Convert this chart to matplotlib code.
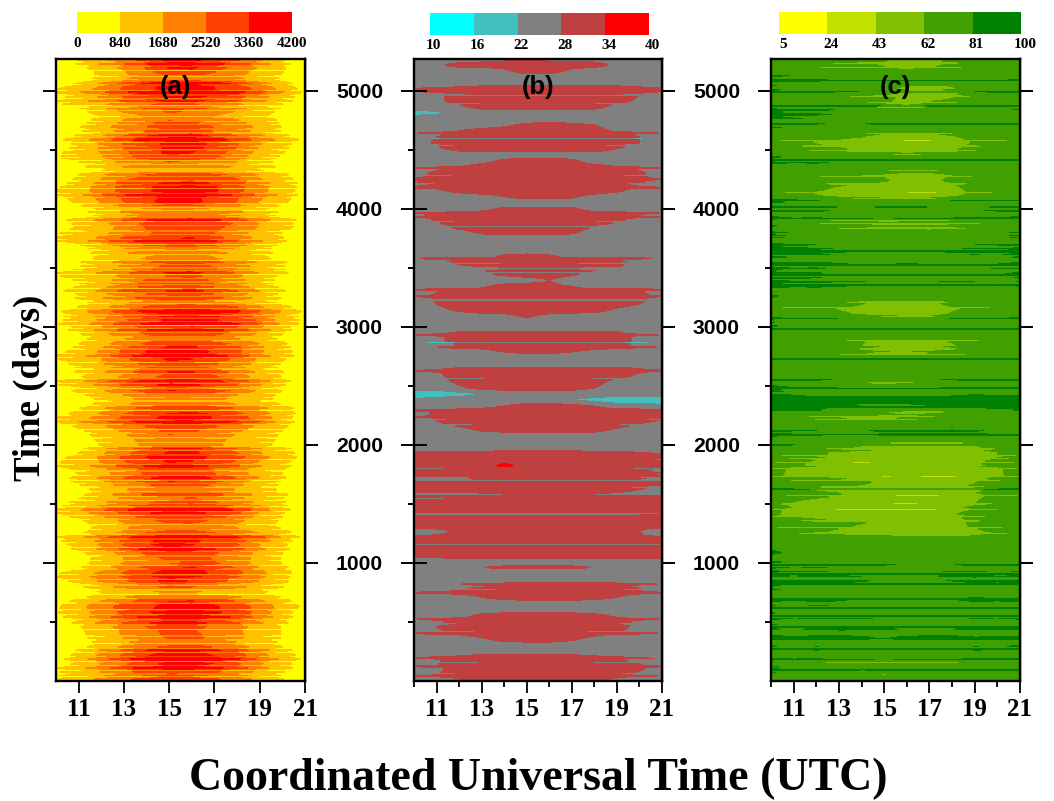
import numpy as np
import matplotlib
matplotlib.use("Agg")
import matplotlib.pyplot as plt

FIG_W, FIG_H = 1054, 801

hours = [10, 11, 12, 13, 14, 15, 16, 17, 18, 19, 20, 21]

# panel (a): flux in hundreds, rows run from the top of the panel to the bottom
flux_rows = [
    [3,9,15,22,28,35,36,30,26,18,9,1],
    [2,7,14,20,27,37,38,29,25,17,10,2],
    [1,5,10,16,24,30,31,26,20,14,9,1],
    [1,4,10,15,19,22,23,20,17,13,7,0],
    [4,8,15,24,30,36,37,33,27,18,11,3],
    [9,14,20,27,31,38,37,34,30,24,15,6],
    [6,11,18,26,30,35,36,33,29,20,13,5],
    [9,12,16,20,24,27,26,22,18,13,9,2],
    [3,8,15,22,26,30,28,24,19,14,8,1],
    [1,4,9,13,18,22,20,17,13,10,5,0],
    [1,6,11,18,24,26,25,22,18,14,7,1],
    [2,8,14,21,25,31,30,25,21,15,8,1],
    [1,7,12,19,26,29,30,24,19,14,8,2],
    [5,11,17,25,31,37,38,31,25,18,12,5],
    [4,10,18,26,30,35,37,32,26,17,11,4],
    [7,12,17,24,29,36,34,28,22,14,9,2],
    [8,11,16,23,28,32,30,26,20,12,7,1],
    [2,6,11,15,18,20,19,17,14,10,6,0],
    [1,4,8,12,14,15,15,13,11,9,5,0],
    [3,9,16,22,26,29,30,28,24,16,11,4],
    [5,12,19,28,32,35,36,33,28,20,13,6],
    [9,13,21,28,33,37,38,35,28,19,13,5],
    [7,12,20,27,31,34,35,31,26,19,12,4],
    [4,10,17,25,32,37,36,31,25,16,10,3],
    [1,6,10,14,17,18,18,16,13,10,6,1],
    [1,4,9,15,22,20,19,20,16,11,6,0],
    [4,11,16,22,28,32,33,30,25,17,11,5],
    [5,9,13,19,26,27,30,27,23,16,12,5],
    [8,11,15,20,24,28,27,25,19,14,8,2],
    [9,12,19,28,31,34,36,29,21,15,9,1],
    [3,8,14,20,26,29,29,26,20,13,7,1],
    [1,4,9,13,16,18,19,15,12,9,5,0],
    [1,5,10,14,17,20,23,17,14,10,6,1],
    [2,7,12,17,21,26,27,24,20,14,9,2],
    [6,10,15,20,25,30,31,26,21,14,9,3],
    [8,11,14,18,23,25,27,22,18,12,7,1],
    [2,8,14,21,28,29,30,25,20,12,6,0],
    [6,10,15,23,26,28,31,25,21,14,8,1],
    [3,9,15,21,25,27,28,25,20,12,7,1],
    [1,6,11,15,19,22,22,18,15,11,6,0],
    [4,9,15,22,27,33,35,31,27,19,12,5],
    [6,13,19,26,31,37,38,35,30,22,14,6],
    [7,11,18,24,30,35,37,34,31,24,13,7],
    [6,10,17,23,28,31,34,31,26,18,12,3],
    [3,8,15,22,27,31,32,28,24,16,9,1],
    [1,6,12,16,21,24,24,21,17,12,7,0],
    [3,9,15,22,28,33,34,29,26,18,11,3],
    [6,11,18,27,34,37,36,33,27,18,11,5],
    [9,12,17,24,31,36,35,30,24,16,10,3],
    [5,11,16,22,27,31,30,26,21,14,8,1],
    [3,8,13,19,24,28,27,23,18,12,7,1],
    [2,7,12,17,22,27,30,26,20,13,8,1],
    [9,13,20,27,31,36,35,30,25,18,10,2],
    [6,11,17,25,31,37,36,31,26,16,9,1],
    [2,7,12,17,21,24,24,21,17,12,7,0],
    [1,4,9,14,18,20,19,17,14,11,6,0],
    [1,6,12,17,22,25,26,23,19,15,10,3],
    [5,11,18,25,30,34,35,33,27,20,13,5],
    [10,15,20,27,32,37,38,33,29,23,11,3],
    [4,10,16,21,26,30,31,26,22,15,10,4],
    [2,6,12,17,21,27,25,22,17,12,8,1],
    [1,5,10,15,19,23,22,19,15,12,7,0],
    [0,3,9,14,18,21,20,18,14,11,6,0],
    [2,7,14,21,27,33,35,28,24,16,11,5],
    [6,11,18,27,34,37,37,32,28,20,13,6],
    [8,12,17,24,29,33,32,28,23,15,10,3],
    [5,10,15,21,27,30,28,24,19,13,9,2],
    [3,8,14,20,26,29,31,26,20,14,8,1],
    [6,10,16,22,28,34,33,28,21,13,8,1],
    [2,6,11,16,20,24,23,20,16,11,7,1],
    [1,5,11,16,22,23,25,23,17,12,8,3],
    [5,10,14,19,22,25,26,24,19,14,9,3],
    [8,12,19,26,31,35,36,31,26,18,10,2],
    [9,14,20,27,33,37,36,32,27,16,9,1],
    [3,8,13,19,25,29,29,25,20,13,8,1],
    [1,5,10,15,19,22,23,20,15,11,6,0],
    [1,6,12,17,24,26,26,24,20,15,11,4],
    [8,13,19,27,32,36,35,33,29,24,13,5],
    [6,11,18,26,33,36,34,30,26,17,10,3],
    [2,8,14,21,29,33,32,27,22,15,9,2],
    [1,5,11,17,23,28,29,24,21,14,8,1],
    [1,6,11,17,22,23,27,26,20,14,8,2],
    [2,8,14,22,29,34,37,30,26,17,11,3],
    [10,15,21,28,34,38,37,33,28,20,11,5],
    [3,9,14,19,24,29,26,22,18,13,9,1],
    [1,5,11,15,18,21,20,18,15,11,7,1],
    [0,3,8,12,15,16,16,14,12,9,5,0],
    [4,10,16,21,28,33,33,28,24,17,11,3],
    [7,14,22,28,32,36,38,35,28,23,13,7],
    [8,13,20,27,33,37,38,35,31,22,12,4],
    [4,9,17,23,28,33,34,29,24,16,10,2],
    [3,8,15,20,26,31,29,24,20,14,8,1],
    [2,7,12,18,23,27,26,22,18,13,8,1],
    [2,6,12,17,23,26,28,23,18,14,8,1],
    [1,5,10,15,19,21,23,21,16,11,7,1],
    [2,7,14,21,27,33,34,28,24,16,10,2],
    [5,11,19,27,34,38,38,34,30,20,13,6],
    [4,10,17,24,31,36,37,34,27,18,12,4],
    [7,12,18,25,31,36,35,29,24,16,10,3],
    [8,12,16,21,26,28,27,24,19,14,8,2],
    [9,14,19,24,29,33,32,27,22,14,9,1],
]

# cloudy days that cut thin pale stripes through panel (a)
flux_deep_days = [
    5170, 5120, 4925, 4870, 4830, 4780, 4640, 4560, 4495, 4405, 4380, 4235, 4170,
    4040, 3985, 3890, 3810, 3700, 3650, 3560, 3500, 3440, 3380, 3320, 3190, 3100,
    3010, 2950, 2810, 2700, 2640, 2520, 2470, 2370, 2290, 2210, 2130, 2060, 1950,
    1870, 1780, 1700, 1640, 1530, 1470, 1400, 1320, 1240, 1130, 1060, 980, 900,
    810, 730, 660, 600, 430, 380, 310, 240, 160, 90, 30,
]
flux_mild_days = [
    5240, 5205, 5090, 5045, 5000, 4960, 4895, 4855, 4740, 4710, 4675, 4605, 4530,
    4460, 4430, 4340, 4310, 4270, 4200, 4130, 4095, 4010, 3950, 3925, 3860, 3775,
    3740, 3675, 3610, 3530, 3470, 3410, 3350, 3290, 3255, 3220, 3150, 3070, 3040,
    2985, 2910, 2880, 2840, 2770, 2735, 2665, 2600, 2560, 2490, 2430, 2400, 2330,
    2250, 2170, 2095, 2020, 1985, 1910, 1835, 1740, 1670, 1600, 1560, 1500, 1430,
    1365, 1280, 1200, 1165, 1095, 1020, 945, 860, 770, 695, 560, 520, 470, 345,
    275, 200, 125, 60,
]
# clear days whose flux reaches further towards both panel edges
flux_clear_days = [
    5225, 5060, 4985, 4910, 4620, 4585, 4350, 4290, 4115, 3965, 3905, 3725, 3625,
    3545, 3460, 3305, 3240, 3125, 3025, 2965, 2755, 2620, 2540, 2310, 2190, 1960,
    1815, 1720, 1580, 1450, 1220, 1115, 840, 790, 535, 490, 255, 185, 105,
]

# panel (b): temperature, top to bottom
temp_rows = [
    [25,25,25,26,27,27,27,26,26,25,25,25],
    [25,27,30,30,30,30,30,30,30,27,25,25],
    [25,25,25,25,27,30,30,27,25,25,25,25],
    [25,25,25,25,25,26,26,25,25,25,25,25],
    [22,25,25,25,25,25,25,25,25,25,25,25],
    [25,27,30,31,31,31,31,31,31,31,30,25],
    [25,27,30,31,31,31,31,31,31,31,28,25],
    [25,27,30,31,31,31,31,31,31,30,27,25],
    [25,25,27,30,31,31,31,31,30,26,25,25],
    [20,21,24,25,25,25,25,25,25,25,25,24],
    [25,25,25,25,25,25,25,25,25,25,25,25],
    [25,25,25,25,27,29,30,29,28,25,25,25],
    [25,25,28,30,30,30,31,30,30,27,25,25],
    [25,28,30,31,31,31,31,31,31,31,28,25],
    [25,29,31,31,31,31,31,31,31,30,28,25],
    [25,27,30,31,31,31,31,31,31,28,26,25],
    [23,24,25,25,25,25,25,25,25,25,25,25],
    [25,25,25,26,29,30,30,29,25,25,25,25],
    [25,26,28,30,31,31,31,31,30,28,26,25],
    [26,29,31,31,31,31,31,31,31,31,29,25],
    [27,30,31,31,31,31,31,31,31,31,30,25],
    [28,30,31,31,31,31,31,31,31,31,28,25],
    [25,27,30,31,31,31,31,31,31,29,26,25],
    [25,25,25,26,28,30,30,29,26,25,25,25],
    [25,25,25,25,25,25,25,25,25,25,25,25],
    [25,25,25,26,29,29,29,29,25,25,25,25],
    [25,28,30,31,31,31,31,31,31,30,27,25],
    [25,29,31,31,31,31,31,31,31,29,26,25],
    [25,26,30,30,30,31,31,30,28,26,25,25],
    [25,25,26,29,30,30,30,29,26,25,25,25],
    [25,25,25,25,25,25,25,25,25,25,25,25],
    [25,25,25,25,25,25,25,25,25,25,25,25],
    [23,25,25,25,25,25,25,25,25,25,24,23],
    [25,25,25,26,29,30,29,26,25,25,25,25],
    [25,27,30,30,30,30,30,30,30,30,26,25],
    [25,25,25,28,30,30,30,30,29,28,25,25],
    [25,25,25,27,29,30,30,29,26,25,25,25],
    [23,23,25,25,25,26,28,25,25,25,25,25],
    [25,25,25,27,30,30,29,28,25,25,25,25],
    [25,28,30,31,31,31,31,31,31,31,29,25],
    [25,29,31,31,31,31,31,31,31,31,30,25],
    [25,28,31,31,31,31,31,31,31,30,28,25],
    [25,26,29,31,31,31,31,31,30,27,25,25],
    [25,25,25,25,26,29,26,25,25,25,25,24],
    [22,24,25,25,25,25,25,25,25,25,25,25],
    [25,25,25,25,25,25,25,25,25,25,25,25],
    [25,27,30,30,31,31,31,31,31,30,26,25],
    [25,27,30,31,31,31,31,31,31,30,27,25],
    [25,25,28,30,31,31,31,31,31,30,26,25],
    [25,25,25,26,28,29,29,28,26,25,25,25],
    [25,25,25,25,25,25,25,25,25,25,25,24],
    [25,25,25,25,25,25,25,25,25,25,25,25],
    [25,28,30,31,31,31,31,31,31,31,29,26],
    [25,27,30,31,31,31,31,31,31,30,27,25],
    [25,26,29,30,31,31,31,31,30,26,25,25],
    [25,25,27,30,30,30,30,30,28,25,25,25],
    [18,18,20,22,25,25,25,25,25,25,25,25],
    [23,25,25,25,25,25,25,22,20,18,17,17],
    [25,25,25,26,28,30,30,30,28,25,25,24],
    [26,29,31,31,31,31,31,31,31,31,31,28],
    [25,29,31,31,31,31,31,31,31,31,31,29],
    [25,27,30,31,31,31,31,31,31,31,28,26],
    [25,25,26,29,30,31,31,31,30,27,25,25],
    [25,25,25,25,25,25,25,25,25,25,25,25],
    [25,25,25,25,25,25,27,25,25,25,25,25],
    [25,25,25,25,25,25,25,25,25,25,25,25],
    [30,30,30,30,31,31,31,31,30,30,29,28],
    [31,31,31,31,31,31,31,31,31,31,31,31],
    [30,30,30,30,36,31,31,31,31,31,31,31],
    [29,29,30,31,31,31,31,31,31,30,28,25],
    [25,25,26,29,30,30,31,31,30,30,28,25],
    [31,31,31,31,31,31,31,31,31,31,31,31],
    [30,30,30,31,31,31,31,31,31,30,28,25],
    [25,25,25,26,27,29,29,29,27,26,25,25],
    [30,30,31,31,31,31,31,31,31,31,31,31],
    [31,31,31,31,31,31,31,31,31,31,31,32],
    [31,31,31,31,31,31,31,31,31,31,31,32],
    [31,31,31,31,31,31,31,31,31,31,31,32],
    [30,31,31,31,31,31,31,31,31,31,30,28],
    [25,26,29,31,31,31,31,31,31,30,28,25],
    [28,30,30,31,31,31,31,31,31,30,29,26],
    [31,31,31,31,31,31,31,31,31,31,31,32],
    [31,31,31,31,31,31,31,31,31,31,31,32],
    [29,30,31,31,31,31,31,31,31,31,31,31],
    [25,25,25,25,25,25,25,25,25,25,25,25],
    [25,25,25,28,29,29,29,29,28,25,25,25],
    [25,25,25,25,25,25,25,25,25,25,25,25],
    [25,25,25,25,25,26,25,25,26,25,25,25],
    [25,25,25,27,29,29,29,29,30,29,26,25],
    [25,28,30,30,31,31,31,31,31,31,30,25],
    [25,25,26,28,30,31,31,31,30,28,25,25],
    [25,25,25,25,25,25,25,25,25,25,25,25],
    [22,23,24,25,25,25,25,25,25,25,25,25],
    [25,25,26,29,30,30,30,30,29,27,25,25],
    [25,27,30,30,31,31,31,31,31,30,27,25],
    [25,28,30,31,31,31,31,31,31,30,26,25],
    [25,27,29,31,31,31,31,31,30,28,26,25],
    [25,25,25,27,30,31,31,29,26,25,25,25],
    [25,25,25,25,25,25,25,25,25,25,25,25],
    [25,25,25,25,25,25,25,25,25,25,25,25],
    [25,27,29,30,30,30,30,30,29,27,25,25],
    [25,28,30,31,31,31,31,31,31,30,28,25],
    [25,27,30,31,31,31,31,31,31,31,29,25],
    [25,28,30,31,31,31,31,31,30,30,26,25],
    [25,25,27,30,30,30,30,30,29,26,25,25],
]

# days with a gray gap at the ends of the warm bands, gaps across the whole panel,
# and days where a band reaches further out
temp_gap_days = [
    4960, 4885, 4590, 4535, 4280, 4205, 3890, 3850, 3540, 3500, 3455, 3225, 2865,
    2560, 2215, 2170, 1870, 1800, 1700, 1640, 1460, 1400, 1160, 1090, 770, 480,
    420, 155, 60,
]
temp_line_days = [4960, 4590, 3850, 3490, 3225, 2865, 1698, 1415, 1150]
temp_reach_days = [
    5020, 4990, 4640, 4345, 4250, 4180, 3960, 3930, 3575, 3310, 3260, 2930, 2825,
    2625, 2290, 2235, 1760, 1735, 1560, 1300, 1215, 815, 745, 520, 400, 190, 120,
    40,
]

# panel (c): humidity, top to bottom
humidity_rows = [
    [78,72,68,66,66,60,55,55,62,72,72,72],
    [72,70,65,62,60,58,54,56,61,70,72,72],
    [78,74,72,70,70,66,64,68,70,72,74,72],
    [80,78,74,70,68,68,70,72,72,72,74,76],
    [78,74,70,68,66,64,60,56,60,68,72,72],
    [78,76,72,66,64,60,54,52,56,64,72,72],
    [80,76,70,66,62,60,58,54,58,66,72,72],
    [76,72,68,64,66,60,56,62,64,70,72,74],
    [82,80,78,74,72,70,70,72,72,72,76,78],
    [82,80,76,72,70,72,72,72,72,72,72,76],
    [74,70,64,60,62,68,70,72,70,72,74,76],
    [80,78,76,72,70,70,70,72,72,72,74,76],
    [76,72,66,62,60,54,52,52,58,64,72,72],
    [74,64,58,56,54,50,48,48,52,60,70,72],
    [76,72,62,60,56,52,50,52,56,64,72,72],
    [78,74,70,66,62,60,58,60,64,70,72,72],
    [80,78,76,72,70,70,72,74,72,72,74,76],
    [80,78,76,74,72,72,70,72,72,72,74,76],
    [78,72,66,62,60,58,54,54,60,66,72,72],
    [78,76,70,64,60,60,56,58,60,70,72,72],
    [78,74,62,58,56,54,52,50,56,64,72,72],
    [76,66,58,54,52,50,48,46,52,62,72,72],
    [78,74,64,60,58,58,56,60,64,70,72,72],
    [80,78,76,74,72,76,76,74,72,72,78,80],
    [80,78,76,72,70,70,72,72,72,74,78,80],
    [78,70,68,66,64,62,64,66,68,70,74,76],
    [78,74,70,64,60,56,56,56,58,66,74,74],
    [80,76,72,68,68,66,64,60,64,72,76,78],
    [78,76,70,66,62,60,62,66,70,74,76,78],
    [82,80,74,72,72,74,72,72,72,74,78,80],
    [82,80,78,74,72,72,72,72,74,76,78,80],
    [78,76,72,72,70,72,72,72,72,72,74,78],
    [80,78,76,74,72,72,74,72,72,72,76,78],
    [82,78,76,70,68,70,72,72,74,74,78,78],
    [80,78,74,72,70,74,72,72,72,74,74,78],
    [82,80,78,76,76,72,72,74,76,74,72,78],
    [78,74,72,70,68,70,70,66,68,72,74,76],
    [82,80,78,76,76,72,72,76,72,72,74,78],
    [76,70,68,64,60,56,54,56,64,70,72,72],
    [72,68,64,58,56,52,50,50,56,64,72,72],
    [74,70,66,62,58,56,54,54,62,70,72,76],
    [78,72,70,66,64,62,64,66,68,70,72,72],
    [78,76,74,72,70,72,72,72,70,72,72,72],
    [80,78,78,76,76,78,78,74,72,72,78,80],
    [78,72,72,68,60,56,54,58,60,66,72,74],
    [72,68,66,62,58,54,52,52,56,64,72,72],
    [76,72,70,66,60,56,56,60,62,68,72,72],
    [78,76,74,72,70,74,76,72,72,72,74,72],
    [76,72,66,62,58,60,58,62,66,70,72,72],
    [78,76,72,70,68,70,72,72,70,72,74,74],
    [76,72,68,62,60,58,56,62,66,70,72,72],
    [80,76,72,72,68,66,70,70,72,72,74,76],
    [78,76,64,60,62,70,62,60,66,72,72,72],
    [90,88,86,86,84,84,84,86,88,90,90,90],
    [84,82,82,78,76,76,76,78,82,84,86,88],
    [78,76,72,70,66,60,56,54,58,64,72,74],
    [76,70,62,58,58,56,60,66,70,72,72,72],
    [78,76,76,74,72,72,72,76,74,72,72,78],
    [80,78,74,72,72,78,76,76,78,76,74,72],
    [78,72,70,66,66,68,70,72,72,72,74,76],
    [76,68,60,56,54,54,52,50,50,56,64,66],
    [74,64,60,58,56,54,52,50,48,52,62,70],
    [70,66,62,56,52,54,54,50,48,50,62,70],
    [72,66,56,50,48,50,54,50,52,58,68,72],
    [66,60,54,50,48,50,54,52,48,50,60,68],
    [66,58,56,54,52,48,50,48,48,52,60,66],
    [78,72,68,66,62,56,54,52,54,58,72,76],
    [76,72,62,56,54,54,52,54,58,62,72,78],
    [76,70,64,60,56,52,48,48,52,56,64,72],
    [74,62,54,50,48,46,44,46,50,58,68,72],
    [70,56,52,48,46,44,44,46,50,60,70,72],
    [66,54,50,48,46,46,48,52,58,64,72,74],
    [74,70,62,60,60,58,56,52,54,62,72,76],
    [72,68,62,60,58,56,54,54,56,60,70,74],
    [76,70,60,56,52,50,50,48,46,52,66,72],
    [76,74,72,72,72,74,72,70,70,72,72,72],
    [80,78,78,76,72,72,72,74,74,76,76,78],
    [82,80,78,76,74,72,72,74,76,76,78,80],
    [78,76,72,72,70,72,74,74,72,72,76,78],
    [78,76,74,74,72,66,60,58,62,70,72,76],
    [80,78,76,72,70,72,72,74,76,76,76,78],
    [78,76,76,78,76,72,72,72,76,78,78,78],
    [82,80,78,76,74,72,72,74,72,76,78,80],
    [78,72,70,68,66,66,66,68,70,72,74,76],
    [80,78,76,76,72,72,72,72,74,78,78,80],
    [78,76,76,74,72,72,74,72,72,74,78,78],
    [76,72,72,70,68,70,66,68,70,72,72,72],
    [80,78,76,76,78,74,72,72,72,76,78,80],
    [78,74,72,72,70,68,66,68,70,72,74,76],
    [78,76,76,78,78,76,74,72,74,78,80,78],
    [82,78,78,78,76,72,76,78,78,74,78,80],
    [78,72,72,70,68,66,72,74,70,72,74,78],
    [78,76,76,74,72,72,72,74,72,76,78,78],
    [74,70,70,68,66,66,66,66,68,70,72,72],
    [78,72,68,66,64,62,64,66,66,70,72,72],
    [78,76,72,72,70,72,74,72,72,72,74,78],
    [78,72,70,68,66,64,66,68,70,72,72,72],
    [72,68,66,64,62,62,64,66,66,70,72,72],
]

# days with a thin dark line at the panel edges, lines that cross the whole panel,
# and days with a thin pale line
humidity_dark_days = [
    5180, 5130, 5050, 5005, 4960, 4905, 4840, 4800, 4770, 4690, 4650, 4475, 4440,
    4390, 4100, 4060, 4015, 3985, 3940, 3860, 3800, 3760, 3700, 3665, 3620, 3590,
    3545, 3500, 3460, 3420, 3385, 3340, 3100, 3040, 3005, 2950, 2830, 2790, 2700,
    2610, 2570, 2500, 2460, 2400, 2330, 2295, 2260, 2120, 2070, 2020, 1985, 1950,
    1890, 1820, 1640, 1470, 1200, 1010, 960, 930, 890, 850, 780, 680, 640, 600,
    575, 530, 480, 440, 380, 340, 300, 255, 205, 170, 120, 75, 30,
]
humidity_line_days = [
    5085, 4990, 4870, 4720, 4420, 4075, 3920, 3775, 3640, 3525, 3440, 3355, 3070,
    2985, 2730, 2555, 2480, 2365, 2320, 2090, 2000, 1625, 985, 905, 825, 700, 615,
    555, 460, 360, 275, 185, 95,
]
humidity_pale_days = [
    5230, 5195, 4950, 4900, 4860, 4640, 4580, 4530, 4490, 4320, 4270, 4210, 4140,
    3900, 3870, 3770, 3830, 3270, 3205, 3160, 2945, 2880, 2760, 2605, 2520, 2240,
    2205, 2170, 1905, 1880, 1845, 1800, 1730, 1700, 1640, 1605, 1570, 1500, 1450,
    1390, 1350, 1300, 1250, 1190, 1150, 1110, 1060, 735, 560, 330, 235, 150, 50,
]

day_top, day_bottom = 5270, 0
grid_step = 8

panel_names = ["(a)", "(b)", "(c)"]
flux_levels = [0, 840, 1680, 2520, 3360, 4200]
temp_levels = [10, 16, 22, 28, 34, 40]
humidity_levels = [5, 24, 43, 62, 81, 100]
flux_colors = ["#ffff00", "#ffc000", "#ff8000", "#ff4000", "#ff0000"]
temp_colors = ["#00ffff", "#40c0c0", "#808080", "#c04040", "#ff0000"]
humidity_colors = ["#ffff00", "#c0e000", "#80c000", "#40a000", "#008000"]

day_major = [1000, 2000, 3000, 4000, 5000]
day_minor = [500, 1500, 2500, 3500, 4500]
hour_major = [11, 13, 15, 17, 19, 21]
hour_minor = [10, 12, 14, 16, 18, 20]

SANS = "Liberation Sans"
SERIF = "Liberation Serif"


def px_axes(fig, left, top, right, bottom):
    # pixel box of the reference to figure fractions
    return fig.add_axes([left / FIG_W, 1 - bottom / FIG_H,
                         (right - left) / FIG_W, (bottom - top) / FIG_H])


def day_grid(rows):
    # fine day grid so that one-day stripes can sit between the coarse rows
    coarse_days = np.linspace(day_bottom, day_top, len(rows))
    coarse = np.array(rows, dtype=float)[::-1]
    days = np.arange(day_bottom, day_top + grid_step, grid_step)
    field = np.column_stack([np.interp(days, coarse_days, coarse[:, j])
                             for j in range(coarse.shape[1])])
    return days, field


def stripe_rows(days, stripe_days, width=2):
    # a stripe covers `width` grid rows, one row is about one pixel
    picked = set()
    for d in stripe_days:
        i = int(np.argmin(np.abs(days - d)))
        picked.update(min(i + k, len(days) - 1) for k in range(width))
    return sorted(picked)


def flux_field():
    days, field = day_grid(np.array(flux_rows) * 100)
    field[stripe_rows(days, flux_clear_days)] *= 1.22
    field[stripe_rows(days, flux_mild_days)] *= 0.7
    field[stripe_rows(days, flux_deep_days)] *= 0.45
    return days, field


def temp_field():
    days, field = day_grid(temp_rows)
    base = field.copy()
    field[stripe_rows(days, temp_reach_days)] += 2.8
    field[stripe_rows(days, temp_gap_days)] -= 3.0
    field[stripe_rows(days, temp_line_days)] -= 4.0
    # gaps only thin out the warm bands, they must not cool the gray background
    return days, np.where(base < 26, np.maximum(field, base), field)


def humidity_field():
    days, field = day_grid(humidity_rows)
    # the rows were read a bit low inside the panel, the pale lines carry the rest
    field[:, 2:10] += 3
    field[stripe_rows(days, humidity_pale_days)] -= 10
    field[stripe_rows(days, humidity_dark_days, width=1)] += 4
    field[stripe_rows(days, humidity_line_days, width=1)] += 14
    return days, field


def draw_panel(fig, box, days, field, levels, colors, name, label_x, show_ylabels, every_hour):
    ax = px_axes(fig, *box)
    ax.contourf(hours, days, field, levels=levels, colors=colors, extend="both",
                antialiased=False)
    ax.set_xlim(10, 21)
    ax.set_ylim(day_bottom, day_top)
    for spine in ax.spines.values():
        spine.set_linewidth(1.7)

    ax.set_xticks(hour_major)
    ax.set_xticklabels([str(h) for h in hour_major], fontfamily=SERIF,
                       fontweight="bold", fontsize=18)
    ax.tick_params(axis="x", which="major", direction="out", length=8.6, width=1.3, pad=4)
    if every_hour:
        ax.set_xticks(hour_minor, minor=True)
        ax.tick_params(axis="x", which="minor", direction="out", length=4.3, width=1.3)

    left_dir = "inout" if name == "(b)" else "out"
    left_len = 18.5 if name == "(b)" else 9.2
    ax.set_yticks(day_major)
    ax.set_yticks(day_minor, minor=True)
    ax.set_yticklabels([])
    ax.tick_params(axis="y", which="major", direction=left_dir, length=left_len, width=1.4)
    ax.tick_params(axis="y", which="minor", direction="out", length=4.3, width=1.4)

    right = ax.secondary_yaxis("right")
    right.set_yticks(day_major)
    right.set_yticks(day_minor, minor=True)
    right.spines["right"].set_linewidth(1.7)
    right.tick_params(axis="y", which="major", direction="inout", length=18.5, width=1.4,
                      pad=13)
    right.tick_params(axis="y", which="minor", direction="in", length=4.3, width=1.4)
    if show_ylabels:
        right.set_yticklabels([str(d) for d in day_major], fontfamily=SANS,
                              fontweight="bold", fontsize=15.2)
    else:
        right.set_yticklabels([])

    ax.text(label_x, 0.955, name, transform=ax.transAxes, ha="center", va="center",
            fontfamily=SANS, fontweight="bold", fontsize=18.5)
    return ax


def draw_colorbar(fig, box, levels, colors, label_shift):
    cax = px_axes(fig, *box)
    for i, col in enumerate(colors):
        cax.axvspan(i, i + 1, color=col, lw=0)
    cax.set_xlim(0, len(colors))
    cax.set_yticks([])
    cax.set_xticks([])
    for spine in cax.spines.values():
        spine.set_visible(False)
    for i, lev in enumerate(levels):
        cax.text(i + label_shift, -0.2, str(lev), ha="center", va="top",
                 transform=cax.get_xaxis_transform(), fontfamily=SERIF,
                 fontweight="bold", fontsize=11, clip_on=False)


def main():
    fig = plt.figure(figsize=(FIG_W / 100, FIG_H / 100), dpi=100)

    days, field = flux_field()
    draw_panel(fig, (56, 59, 305, 681), days, field, flux_levels, flux_colors, panel_names[0], 0.48, True, False)
    days, field = temp_field()
    draw_panel(fig, (414, 59, 662, 681), days, field, temp_levels, temp_colors, panel_names[1], 0.5, True, True)
    days, field = humidity_field()
    draw_panel(fig, (771, 59, 1020, 681), days, field, humidity_levels, humidity_colors, panel_names[2], 0.5, False, True)

    draw_colorbar(fig, (77, 12, 292, 33), flux_levels, flux_colors, 0)
    draw_colorbar(fig, (430, 13, 649, 35), temp_levels, temp_colors, 0.08)
    draw_colorbar(fig, (779, 12, 1021, 34), humidity_levels, humidity_colors, 0.08)

    fig.text(538 / FIG_W, 1 - 779 / FIG_H, "Coordinated Universal Time (UTC)",
             ha="center", va="center", fontfamily=SERIF, fontweight="bold", fontsize=33)
    fig.text(30 / FIG_W, 1 - 388 / FIG_H, "Time (days)", rotation=90,
             ha="center", va="center", fontfamily=SERIF, fontweight="bold", fontsize=26.5)

    fig.savefig("out.png", dpi=100)


if __name__ == "__main__":
    main()
